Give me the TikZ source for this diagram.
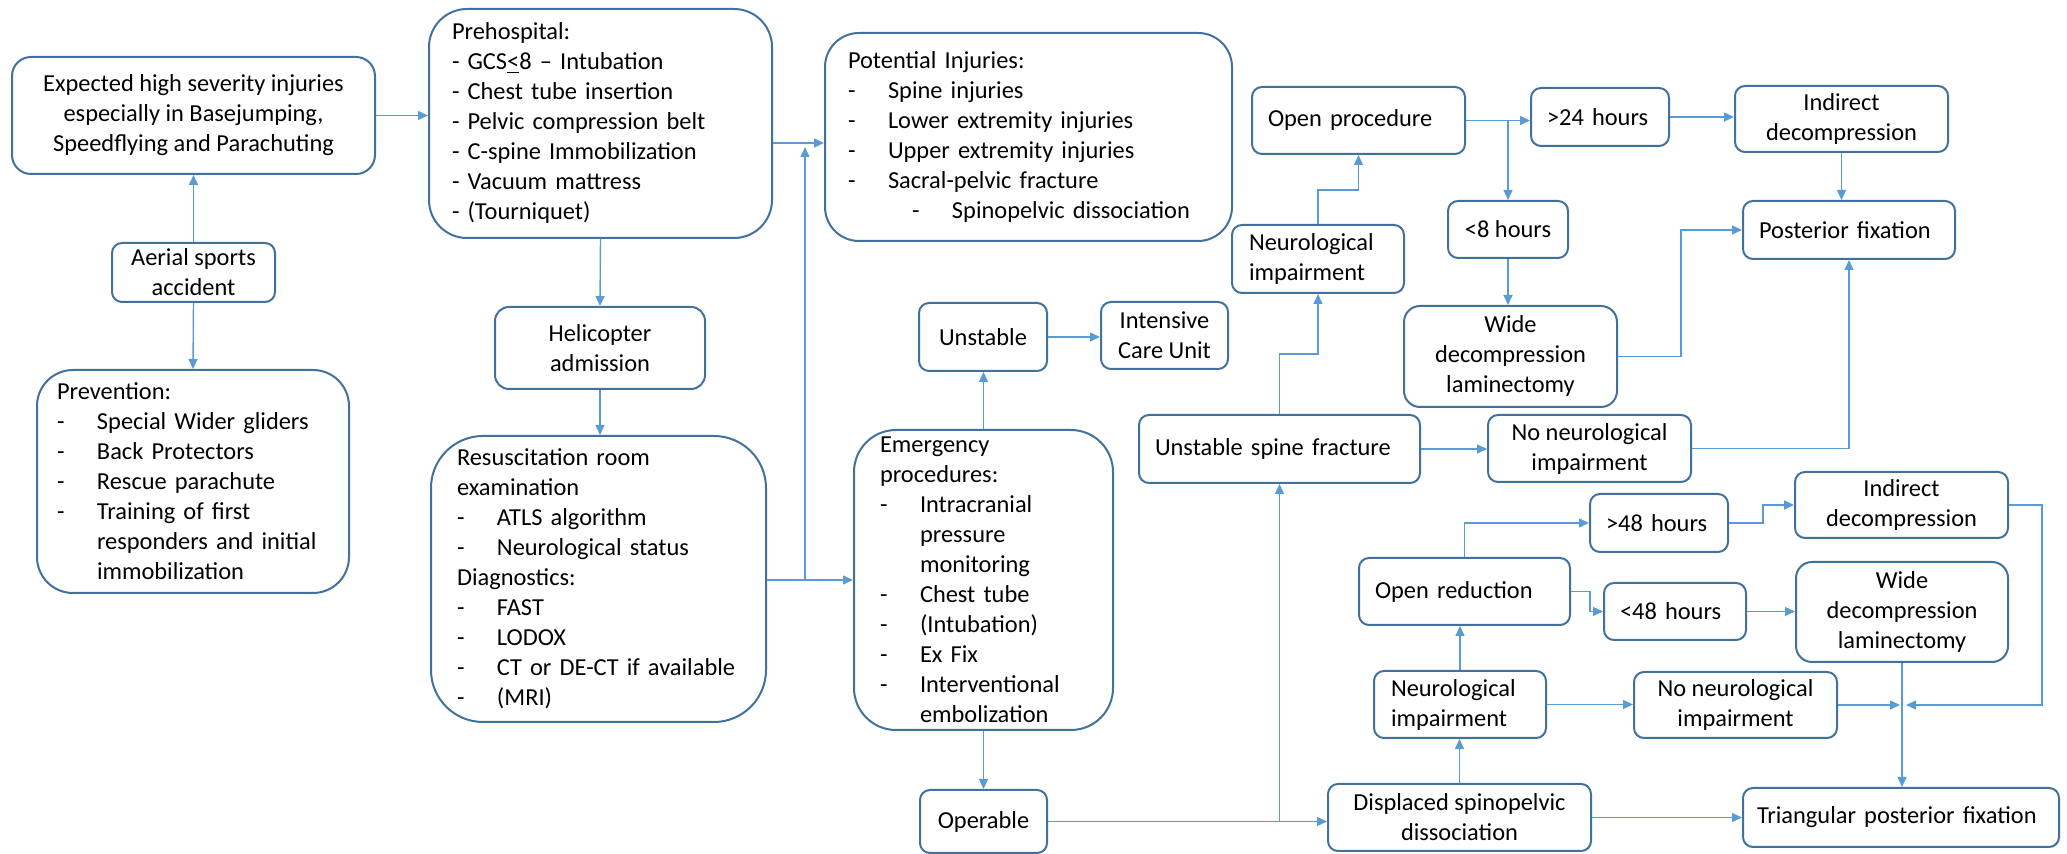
\documentclass[tikz,border=0pt]{standalone}
\usepackage{fontspec}
\setmainfont{Carlito}
\usepackage{tikz}
\usetikzlibrary{arrows.meta}

\definecolor{boxblue}{RGB}{65,113,156}
\definecolor{lineblue}{RGB}{91,155,213}
\newcommand{\itm}{\makebox[20pt][l]{-}}
\newcommand{\ind}{\hspace*{20pt}}

\begin{document}
\begin{tikzpicture}[x=1pt, y=-1pt, >={Triangle[length=5pt,width=4.5pt]},
        box/.style={draw=boxblue, line width=1pt, rounded corners=5pt, align=center, inner sep=0pt, font=\fontsize{12.2}{15}\selectfont},
        lbox/.style={box, align=left, inner xsep=8pt},
        arr/.style={->, lineblue, line width=0.7pt}]
        \useasboundingbox (0,0) rectangle (1033.5,427);

        % 왼쪽 열: 사고, 예상 손상, 예방
        \node[box, minimum width=181.5pt, minimum height=58.5pt, rounded corners=9.5pt] (exp) at (96.75,57.75) {Expected high severity injuries\\especially in Basejumping,\\Speedflying and Parachuting};
        \node[box, minimum width=81.5pt, minimum height=29.5pt] (acc) at (96.75,136.25) {Aerial sports\\accident};
        \node[lbox, inner xsep=10pt, text width=136pt, minimum height=111.5pt, rounded corners=18pt] (prev) at (96.5,240.75) {Prevention:\\ \itm Special Wider gliders\\ \itm Back Protectors\\ \itm Rescue parachute\\ \itm Training of first\\ \ind responders and initial\\ \ind immobilization};

        % 병원 전 처치와 소생실
        \node[lbox, inner xsep=11.5pt, text width=148.5pt, minimum height=114.5pt, rounded corners=19pt] (pre) at (300.25,61.75) {Prehospital:\\- GCS\underline{<}8 – Intubation\\- Chest tube insertion\\- Pelvic compression belt\\- C-spine Immobilization\\- Vacuum mattress\\- (Tourniquet)};
        \node[box, minimum width=105pt, minimum height=41pt, rounded corners=7pt] (heli) at (300,174) {Helicopter\\admission};
        \node[lbox, inner xsep=13pt, text width=141.5pt, minimum height=143pt, rounded corners=26pt] (res) at (299.25,289.5) {Resuscitation room\\examination\\ \itm ATLS algorithm\\ \itm Neurological status\\Diagnostics:\\ \itm FAST\\ \itm LODOX\\ \itm CT or DE-CT if available\\ \itm (MRI)};

        % 가능한 손상과 응급 처치
        \node[lbox, inner xsep=11.5pt, text width=180.5pt, minimum height=104pt, rounded corners=17pt] (pot) at (514.25,68.5) {Potential Injuries:\\ \itm Spine injuries\\ \itm Lower extremity injuries\\ \itm Upper extremity injuries\\ \itm Sacral-pelvic fracture\\ \hspace*{32pt}\itm Spinopelvic dissociation};
        \node[box, minimum width=64pt, minimum height=34pt] (unst) at (491.5,168.5) {Unstable};
        \node[box, minimum width=63.5pt, minimum height=33.5pt] (icu) at (582.25,167.75) {Intensive\\Care Unit};
        \node[lbox, inner xsep=13pt, text width=103.5pt, minimum height=150pt, rounded corners=21pt] (emg) at (491.75,290) {Emergency\\procedures:\\ \itm Intracranial\\ \ind pressure\\ \ind monitoring\\ \itm Chest tube\\ \itm (Intubation)\\ \itm Ex Fix\\ \itm Interventional\\ \ind embolization};
        \node[box, minimum width=63.5pt, minimum height=31.5pt] (op) at (491.75,410.75) {Operable};

        % 불안정 척추 골절 쪽
        \node[lbox, text width=90.5pt, minimum height=33.5pt] (oproc) at (679.25,60.25) {Open procedure};
        \node[lbox, text width=53pt, minimum height=29pt] (h24) at (800,58.5) {>24 hours};
        \node[box, minimum width=106.5pt, minimum height=33pt] (ind1) at (920.75,59.5) {Indirect\\decompression};
        \node[lbox, inner xsep=8.5pt, text width=69pt, minimum height=34pt] (neu1) at (659,129.5) {Neurological\\impairment};
        \node[box, minimum width=60pt, minimum height=28.5pt] (h8) at (754,114.75) {<8 hours};
        \node[lbox, text width=90pt, minimum height=29pt] (post) at (924.5,115) {Posterior fixation};
        \node[box, minimum width=106.5pt, minimum height=50.5pt, rounded corners=8pt] (wide1) at (755.25,178.25) {Wide\\decompression\\laminectomy};
        \node[lbox, text width=124.5pt, minimum height=34pt] (usf) at (639.75,224.5) {Unstable spine fracture};
        \node[box, minimum width=101.5pt, minimum height=33.5pt] (non1) at (794.75,224.25) {No neurological\\impairment};

        % 전위된 척추골반 분리 쪽
        \node[lbox, text width=53pt, minimum height=29pt] (h48) at (829.5,261.5) {>48 hours};
        \node[box, minimum width=106.5pt, minimum height=33pt] (ind2) at (950.75,252.5) {Indirect\\decompression};
        \node[lbox, text width=89.5pt, minimum height=33.5pt] (ored) at (732.25,295.75) {Open reduction};
        \node[lbox, text width=55pt, minimum height=28.5pt] (hl48) at (837.5,305.75) {<48 hours};
        \node[box, minimum width=106pt, minimum height=50pt, rounded corners=8pt] (wide2) at (951,306) {Wide\\decompression\\laminectomy};
        \node[lbox, inner xsep=8.5pt, text width=69pt, minimum height=33.5pt] (neu2) at (730,352.25) {Neurological\\impairment};
        \node[box, minimum width=101.5pt, minimum height=33pt] (non2) at (867.75,352.5) {No neurological\\impairment};
        \node[box, minimum width=131.5pt, minimum height=33.5pt] (disp) at (729.75,408.75) {Displaced spinopelvic\\dissociation};
        \node[lbox, inner xsep=7pt, text width=144pt, minimum height=29.5pt] (tri) at (950.5,408.75) {Triangular posterior fixation};

        % 왼쪽 흐름 화살표
        \coordinate (j1) at (402.5,71.5);
        \draw[arr] (acc.north) -- (exp.south);
        \draw[arr] (acc.south) -- (prev.north);
        \draw[arr] (exp.east) -- (exp.east -| pre.west);
        \draw[arr] (pre.east |- j1) -- (pot.west |- j1);
        \draw[arr] (pre.south) -- (heli.north);
        \draw[arr] (heli.south) -- (heli.south |- res.north);
        \draw[arr] (res.east |- emg.west) -- (emg.west);
        \draw[arr, shorten >=2pt] (res.east |- emg.west) -| (j1);
        \draw[arr] (emg.north) -- (emg.north |- unst.south);
        \draw[arr] (unst.east) -- (unst.east -| icu.west);
        \draw[arr] (emg.south) -- (emg.south |- op.north);
        \draw[arr] (op.east) -- (op.east -| disp.west);
        \draw[arr] (op.east) -| (usf.south);

        % 위쪽 가지 화살표
        \draw[arr] (usf.north) |- (659,177) -- (neu1.south);
        \draw[arr] (neu1.north) |- (679.25,95) -- (oproc.south);
        \draw[arr] (usf.east) -- (usf.east -| non1.west);
        \draw[arr] (non1.east) -| (post.south);
        \draw[arr] (oproc.east) -- (oproc.east -| h24.west);
        \draw[arr] (oproc.east) -| (h8.north);
        \draw[arr] (h24.east) -- (h24.east -| ind1.west);
        \draw[arr] (ind1.south) -- (ind1.south |- post.north);
        \draw[arr] (h8.south) -- (h8.south |- wide1.north);
        \draw[arr] (wide1.east) -- ++(31.5,0) |- (post.west);

        % 아래쪽 가지 화살표
        \coordinate (mL) at (950,352.5);
        \coordinate (mR) at (953,352.5);
        \draw[arr] (disp.north) -- (disp.north |- neu2.south);
        \draw[arr] (neu2.north) -- (neu2.north |- ored.south);
        \draw[arr] (ored.north) |- (h48.west);
        \draw[arr] (ored.east) -- ++(9.5,0) |- (hl48.west);
        \draw[arr] (h48.east) -- ++(17,0) |- (ind2.west);
        \draw[arr] (hl48.east) -- (hl48.east -| wide2.west);
        \draw[arr] (neu2.east) -- (neu2.east -| non2.west);
        \draw[arr] (non2.east) -- (mL);
        \draw[arr] (ind2.east) -- ++(16.5,0) |- (mR);
        \draw[arr] (wide2.south) -- (wide2.south |- tri.north);
        \draw[arr] (disp.east) -- (disp.east -| tri.west);

    \end{tikzpicture}
\end{document}
